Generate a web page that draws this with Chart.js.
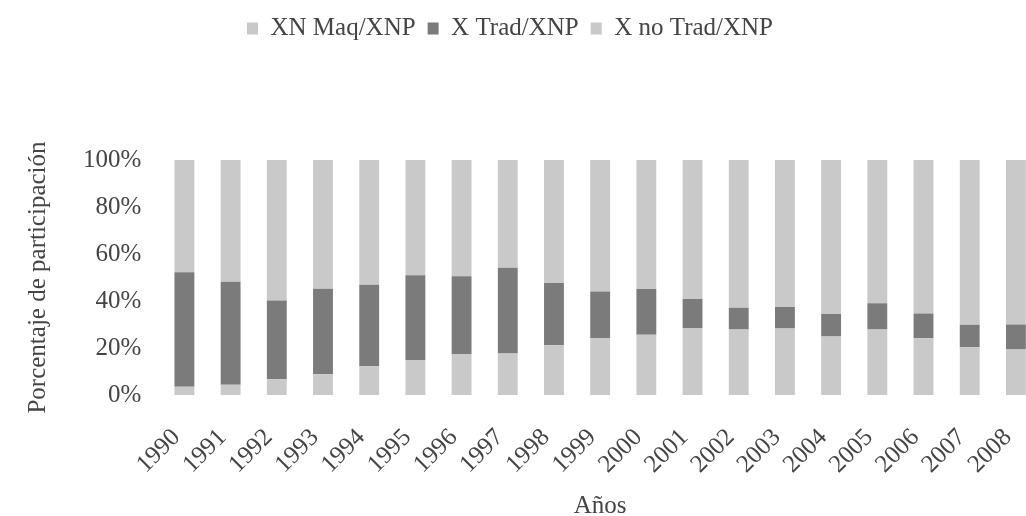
<!DOCTYPE html>
<html>
<head>
<meta charset="utf-8">
<script src="https://cdn.jsdelivr.net/npm/chart.js@4"></script>
<style>
    html, body { margin: 0; padding: 0; background: #fff; overflow: hidden; }
    #wrap { width: 1026px; height: 516px; overflow: hidden; }
</style>
</head>
<body>
<div id="wrap"><canvas id="barChart" width="1050" height="516"></canvas></div>
<script>
// Years on the x axis
const years = ["1990", "1991", "1992", "1993", "1994", "1995", "1996", "1997", "1998", "1999",
    "2000", "2001", "2002", "2003", "2004", "2005", "2006", "2007", "2008"];

// Shares (%), bottom to top of each bar
const xnMaq = [3.5, 4.4, 6.7, 8.8, 12.2, 14.9, 17.4, 17.7, 21.2, 24.3,
    25.6, 28.5, 27.9, 28.3, 24.9, 27.9, 24.2, 20.3, 19.4];
const xTrad = [48.7, 43.8, 33.5, 36.4, 34.7, 36.1, 33.1, 36.4, 26.5, 19.7,
    19.5, 12.4, 9.2, 9.2, 9.6, 11.1, 10.5, 9.6, 10.6];
const xNoTrad = [47.8, 51.8, 59.8, 54.8, 53.1, 49.0, 49.5, 45.9, 52.3, 56.0,
    54.9, 59.1, 62.9, 62.5, 65.5, 61.0, 65.3, 70.1, 70.0];

const yTicks = [0, 20, 40, 60, 80, 100];

const lightGray = "#c9c9c9";
const darkGray = "#7b7b7b";
const textColor = "#454545";
const serif = "'Liberation Serif', 'DejaVu Serif', serif";

Chart.defaults.font.family = serif;
Chart.defaults.font.size = 25;
Chart.defaults.color = textColor;

// legend: leave room below it and nudge it left like the original
const legendTweak = {
    id: "legendTweak",
    beforeInit(chart) {
        const fit = chart.legend.fit;
        chart.legend.fit = function () {
            fit.call(this);
            this.height = 156;
        };
        const draw = chart.legend.draw;
        chart.legend.draw = function () {
            const ctx = this.ctx;
            ctx.save();
            ctx.translate(-19, 0);
            draw.call(this);
            ctx.restore();
        };
    }
};

const bar = (label, data, color) => ({
    label: label,
    data: data,
    backgroundColor: color,
    borderWidth: 0,
    barPercentage: 0.43,
    categoryPercentage: 1
});

const config = {
    type: "bar",
    data: {
        labels: years,
        datasets: [
            bar("XN Maq/XNP", xnMaq, lightGray),
            bar("X Trad/XNP", xTrad, darkGray),
            bar("X no Trad/XNP", xNoTrad, lightGray)
        ]
    },
    options: {
        responsive: false,
        animation: false,
        devicePixelRatio: 1,
        layout: { padding: { left: 19, right: 11, top: 4, bottom: 0 } },
        plugins: {
            legend: {
                position: "top",
                labels: {
                    boxWidth: 11,
                    boxHeight: 12,
                    padding: 12,
                    color: textColor,
                    font: { size: 25 }
                }
            },
            tooltip: { enabled: false }
        },
        scales: {
            x: {
                stacked: true,
                grid: { display: false, drawTicks: false },
                border: { display: false },
                ticks: { minRotation: 45, maxRotation: 45, padding: 28, labelOffset: -8, autoSkip: false },
                title: {
                    display: true,
                    text: "Años",
                    font: { size: 25, lineHeight: 0.8 },
                    padding: { top: 0, bottom: 0 }
                },
                // rotated labels should not push the plot to the right
                afterFit: (scale) => {
                    scale.paddingLeft = 0;
                    scale.paddingRight = 0;
                    scale.height = 121;
                }
            },
            y: {
                stacked: true,
                min: 0,
                max: 100,
                grid: { display: false, drawTicks: false },
                border: { display: false },
                afterBuildTicks: (axis) => { axis.ticks = yTicks.map(v => ({ value: v })); },
                ticks: { padding: 20, callback: (v) => v + "%" },
                title: {
                    display: true,
                    text: "Porcentaje de participación",
                    font: { size: 25, lineHeight: 1.2 },
                    padding: { top: 4, bottom: 10 }
                }
            }
        }
    },
    plugins: [legendTweak]
};

const ctx = document.getElementById("barChart").getContext("2d");
const chart = new Chart(ctx, config);
</script>
</body>
</html>
